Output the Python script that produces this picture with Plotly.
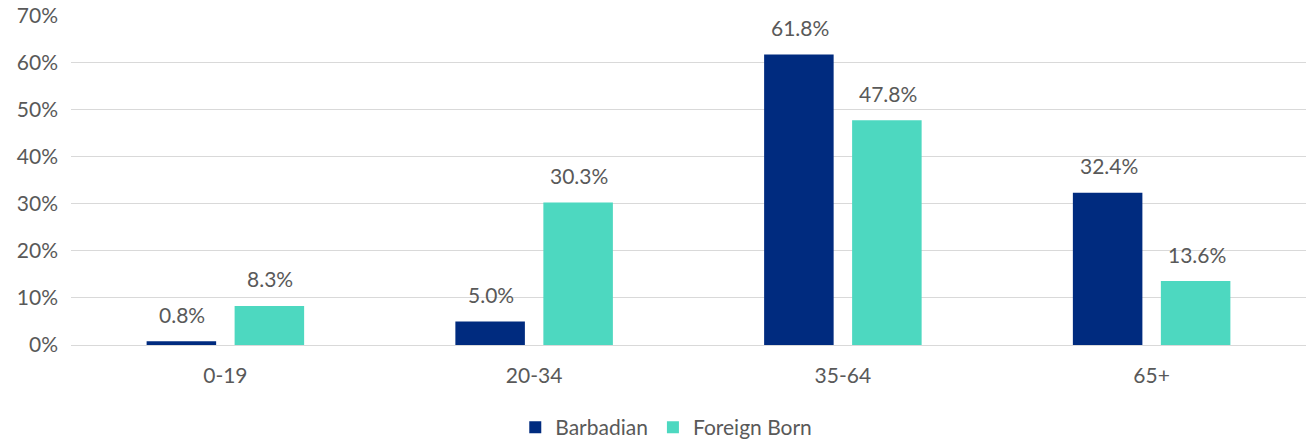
import plotly.graph_objects as go

categories = ["0-19", "20-34", "35-64", "65+"]
barbadian = [0.8, 5.0, 61.8, 32.4]
foreign_born = [8.3, 30.3, 47.8, 13.6]
series_names = ["Barbadian", "Foreign Born"]
colors = ["#002B7F", "#4DD8C0"]
y_ticks = [0, 10, 20, 30, 40, 50, 60, 70]

FONT = "Lato, Open Sans, sans-serif"
TXT = "#595959"
FS = 21

fig = go.Figure()
for name, vals, col in zip(series_names, [barbadian, foreign_born], colors):
    fig.add_trace(go.Bar(x=categories, y=vals, name=name, marker_color=col,
                         marker_line_width=0))

W, H = 1307, 445
ml, mr, mt, mb = 71, 1, 15, 100
cat_w = (W - ml - mr) / len(categories)
bargap = 0.43
slot = (1 - bargap) * cat_w / 2

for i, vals in enumerate([barbadian, foreign_born]):
    shift = (-0.5 + i) * slot + 1
    for c, v in zip(categories, vals):
        fig.add_annotation(x=c, y=v, text=f"{v:.1f}%", showarrow=False,
                           xshift=shift, yshift=27, yanchor="middle",
                           font=dict(family=FONT, size=FS, color=TXT))

fig.update_layout(
    width=W, height=H,
    margin=dict(l=ml, r=mr, t=mt, b=mb, autoexpand=False),
    plot_bgcolor="white", paper_bgcolor="white",
    barmode="group", bargap=bargap, bargroupgap=0.21,
    font=dict(family=FONT, size=FS, color=TXT),
    legend=dict(orientation="h", x=0.482, xanchor="center", y=-0.25, yanchor="middle",
                font=dict(family=FONT, size=FS, color=TXT), itemwidth=30,
                traceorder="normal"),
    xaxis=dict(showgrid=False, ticks="", showline=False, automargin=False,
               ticklabelstandoff=16,
               tickfont=dict(family=FONT, size=FS, color=TXT)),
    yaxis=dict(range=[0, 70.2], tickvals=y_ticks, automargin=False,
               ticktext=[f"{t}%" for t in y_ticks],
               showgrid=True, gridcolor="#D9D9D9", gridwidth=1,
               zeroline=True, zerolinecolor="#D9D9D9", zerolinewidth=1,
               ticks="", ticklabelstandoff=12,
               tickfont=dict(family=FONT, size=FS, color=TXT)),
)

fig.write_html("out.html", config={"displayModeBar": False},
               post_script="document.body.style.margin='0';")
